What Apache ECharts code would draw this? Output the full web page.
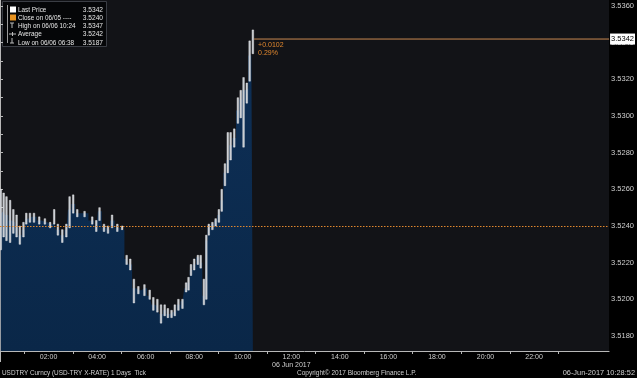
<!DOCTYPE html>
<html><head><meta charset="utf-8">
<script src="https://cdn.jsdelivr.net/npm/echarts@6/dist/echarts.min.js"></script>
<style>html,body{margin:0;padding:0;background:#000}#c{width:637px;height:378px}</style>
</head><body><div id="c"></div>
<script>
const times = ["00:02","00:09","00:16","00:25","00:33","00:41","00:49","00:58","01:05","01:14",
"01:24","01:37","01:51","02:04","02:14","02:23","02:34","02:44","02:52","03:01",
"03:11","03:29","03:48","03:58","04:06","04:17","04:27","04:37","04:50","05:02",
"05:13","05:22","05:31","05:42","05:57","06:10","06:19","06:29","06:38","06:47",
"06:55","07:04","07:12","07:21","07:31","07:40","07:46","07:52","08:00","08:09",
"08:16","08:24","08:30","08:36","08:45","08:53","09:01","09:08","09:16","09:23",
"09:30","09:39","09:48","09:55","10:02","10:10","10:17","10:25"];
const highs = [3.5260,3.5258,3.5256,3.5254,3.5249,3.5246,3.5240,3.5242,3.5247,3.5247,
3.5247,3.5245,3.5244,3.5242,3.5249,3.5241,3.5238,3.5241,3.5256,3.5257,
3.5249,3.5248,3.5245,3.5243,3.5250,3.5241,3.5240,3.5246,3.5241,3.5240,
3.5224,3.5222,3.5211,3.5207,3.5208,3.5205,3.5201,3.5200,3.5197,3.5197,
3.5195,3.5194,3.5197,3.5200,3.5200,3.5209,3.5212,3.5219,3.5222,3.5224,
3.5224,3.5211,3.5235,3.5241,3.5242,3.5244,3.5249,3.5260,3.5274,3.5291,
3.5291,3.5293,3.5310,3.5314,3.5321,3.5318,3.5341,3.5347];
const lows = [3.5227,3.5234,3.5232,3.5231,3.5236,3.5234,3.5230,3.5234,3.5241,3.5242,
3.5242,3.5241,3.5241,3.5239,3.5241,3.5235,3.5231,3.5234,3.5239,3.5247,
3.5245,3.5245,3.5241,3.5237,3.5243,3.5237,3.5236,3.5239,3.5237,3.5238,
3.5219,3.5216,3.5198,3.5203,3.5202,3.5200,3.5194,3.5193,3.5187,3.5191,
3.5190,3.5190,3.5191,3.5194,3.5195,3.5204,3.5205,3.5213,3.5216,3.5219,
3.5217,3.5197,3.5200,3.5235,3.5238,3.5240,3.5242,3.5248,3.5262,3.5269,
3.5276,3.5283,3.5296,3.5299,3.5283,3.5307,3.5319,3.5334];
const closes = [3.5247,3.5248,3.5246,3.5243,3.5242,3.5239,3.5235,3.5238,3.5244,3.5245,
3.5245,3.5243,3.5242,3.5241,3.5242,3.5238,3.5235,3.5238,3.5249,3.5252,
3.5247,3.5247,3.5243,3.5240,3.5248,3.5239,3.5238,3.5243,3.5239,3.5238,
3.5222,3.5219,3.5206,3.5205,3.5206,3.5202,3.5197,3.5196,3.5192,3.5194,
3.5192,3.5193,3.5194,3.5197,3.5199,3.5206,3.5209,3.5216,3.5219,3.5223,
3.5220,3.5202,3.5232,3.5239,3.5241,3.5243,3.5246,3.5254,3.5269,3.5276,
3.5284,3.5288,3.5303,3.5309,3.5314,3.5315,3.5333,3.5342];
const yLabelValues = [3.5180,3.5200,3.5220,3.5240,3.5260,3.5280,3.5300,3.5320,3.5340,3.5360];
const yTickValues = [3.5180,3.5190,3.5200,3.5210,3.5220,3.5230,3.5240,3.5250,3.5260,3.5270,3.5280,3.5290,3.5300,3.5310,3.5320,3.5330,3.5340,3.5350,3.5360];
const xLabelHours = [2,4,6,8,10,12,14,16,18,20,22];
const xTickHours = [1,3,5,7,9,11,13,15,17,19,21,23];
const lastPrice = 3.5342, prevClose = 3.5240, lastTime = "10:28";
const legendRows = [
  ["Last Price", "3.5342"],
  ["Close on 06/05 ----", "3.5240"],
  ["High on 06/06 10:24", "3.5347"],
  ["Average", "3.5242"],
  ["Low on 06/06 06:38", "3.5187"]
];
const footerLeft = "USDTRY Curncy (USD-TRY X-RATE) 1 Days  Tick";
const footerMid = "Copyright\u00A9 2017 Bloomberg Finance L.P.";
const footerRight = "06-Jun-2017 10:28:52";
const dateLabel = "06 Jun 2017";

const FONT = 'Liberation Sans';
const toH = t => { const [h, m] = t.split(':').map(Number); return h + m / 60; };
const xs = times.map(toH);
const lastH = toH(lastTime);
const X_MAX = 25.09, Y_MIN = 3.51718, Y_MAX = 3.53633;

const chart = echarts.init(document.getElementById('c'), null, {renderer: 'canvas'});
const txt = '#cfcfcf';
const ORANGE = '#e0872e';

const legendGraphics = [
  {type:'rect', shape:{x:2.5, y:1.5, width:104, height:45}, style:{fill:'#050608', stroke:'#3a3d44', lineWidth:1}},
  {type:'line', shape:{x1:7.5, y1:5, x2:7.5, y2:43}, style:{stroke:'#9a9a9a', lineWidth:1}},
  {type:'rect', shape:{x:10, y:6.5, width:6, height:6}, style:{fill:'#ffffff'}},
  {type:'rect', shape:{x:10, y:14.5, width:6, height:6}, style:{fill:'#e8921f'}},
  {type:'line', shape:{x1:10, y1:23, x2:14, y2:23}, style:{stroke:'#bbbbbb', lineWidth:1}},
  {type:'line', shape:{x1:12, y1:23, x2:12, y2:28}, style:{stroke:'#bbbbbb', lineWidth:1}},
  {type:'line', shape:{x1:9, y1:34, x2:16, y2:34}, style:{stroke:'#bbbbbb', lineWidth:1}},
  {type:'line', shape:{x1:12.5, y1:32, x2:12.5, y2:36}, style:{stroke:'#bbbbbb', lineWidth:1}},
  {type:'line', shape:{x1:12, y1:38, x2:12, y2:43}, style:{stroke:'#bbbbbb', lineWidth:1}},
  {type:'line', shape:{x1:10, y1:43, x2:14, y2:43}, style:{stroke:'#bbbbbb', lineWidth:1}}
];
legendRows.forEach((r, i) => {
  const y = 10 + i * 8.2;
  legendGraphics.push({type:'text', x:18, y:y, style:{text:r[0], fill:'#e6e6e6', font:'6.4px ' + FONT, textVerticalAlign:'middle'}});
  legendGraphics.push({type:'text', x:103, y:y, style:{text:r[1], fill:'#e6e6e6', font:'6.6px ' + FONT, textAlign:'right', textVerticalAlign:'middle'}});
});

const option = {
  backgroundColor: '#000000',
  animation: false,
  grid: {left: 0, right: 26, top: 0, bottom: 27, show: true, backgroundColor: '#121317', borderWidth: 0},
  xAxis: {
    type: 'value', min: 0, max: X_MAX,
    axisLine: {show: true, onZero: false, lineStyle: {color: '#b8b8b8', width: 1}},
    axisTick: {show: true, customValues: xTickHours, length: 3, lineStyle: {color: '#b8b8b8'}},
    axisLabel: {show: true, customValues: xLabelHours, margin: 3, color: txt, fontSize: 7, fontFamily: FONT,
      formatter: v => String(v).padStart(2, '0') + ':00'},
    splitLine: {show: false}
  },
  yAxis: {
    type: 'value', position: 'right', min: Y_MIN, max: Y_MAX, scale: true,
    axisLine: {show: true, lineStyle: {color: '#b8b8b8', width: 1}},
    axisTick: {show: true, customValues: yTickValues, length: 3, lineStyle: {color: '#b8b8b8'}},
    axisLabel: {show: true, customValues: yLabelValues, margin: 2, color: txt, fontSize: 7.5, fontFamily: FONT,
      formatter: v => v.toFixed(4)},
    splitLine: {show: false}
  },
  series: [
    {
      type: 'line', step: 'middle', showSymbol: false, z: 1,
      data: xs.map((x, i) => [x, closes[i]]),
      lineStyle: {width: 0},
      areaStyle: {color: new echarts.graphic.LinearGradient(0, 0, 0, 1, [
        {offset: 0, color: '#0e3057'}, {offset: 1, color: '#0a2748'}]), opacity: 1, origin: 'start'},
      markLine: {
        silent: true, symbol: ['none', 'none'], animation: false, precision: 4,
        lineStyle: {type: [1.5, 1.5], color: ORANGE, width: 1, opacity: 1},
        label: {show: false},
        data: [{yAxis: prevClose}]
      }
    },
    {
      type: 'custom', z: 3,
      data: xs.map((x, i) => [x, highs[i], lows[i]]),
      encode: {x: 0, y: [1, 2]},
      renderItem: (params, api) => {
        const p1 = api.coord([api.value(0), api.value(1)]);
        const p2 = api.coord([api.value(0), api.value(2)]);
        return {type: 'rect', shape: {x: p1[0] - 0.8, y: p1[1], width: 1.6, height: Math.max(1, p2[1] - p1[1])},
          style: {fill: '#c2c6cc', stroke: '#ffffff', lineWidth: 0.4}};
      }
    },
    {
      type: 'line', z: 4, showSymbol: false, silent: true,
      data: [[lastH, lastPrice], [X_MAX, lastPrice]],
      lineStyle: {color: '#c98a52', width: 1, type: 'solid'},
      itemStyle: {color: '#c98a52'},
      endLabel: {show: true, distance: 1, formatter: () => lastPrice.toFixed(4),
        backgroundColor: '#ffffff', color: '#000000', fontSize: 7.5, fontFamily: FONT, padding: [2, 1, 1, 1]}
    }
  ],
  graphic: []
};
chart.setOption(option);

const pLast = chart.convertToPixel({gridIndex: 0}, [lastH, lastPrice]);
const pDate = chart.convertToPixel({gridIndex: 0}, [12, Y_MIN]);
const g = legendGraphics.concat([
  {type:'text', x: pLast[0] + 4, y: pLast[1] + 3, style:{text:'+0.0102', fill:ORANGE, font:'7px ' + FONT}},
  {type:'text', x: pLast[0] + 4, y: pLast[1] + 11, style:{text:'0.29%', fill:ORANGE, font:'7px ' + FONT}},
  {type:'text', x: pDate[0], y: 365, style:{text: dateLabel, fill: txt, font:'7px ' + FONT, textAlign:'center', textVerticalAlign:'middle'}},
  {type:'line', shape:{x1:0.5, y1:351, x2:0.5, y2:362}, style:{stroke:'#b8b8b8', lineWidth:1}},
  {type:'text', x: 2, y: 373, style:{text: footerLeft, fill: txt, font:'6.4px ' + FONT, textVerticalAlign:'middle'}},
  {type:'text', x: 297, y: 373, style:{text: footerMid, fill: txt, font:'6.5px ' + FONT, textVerticalAlign:'middle'}},
  {type:'text', x: 635, y: 373, style:{text: footerRight, fill: txt, font:'7.4px ' + FONT, textAlign:'right', textVerticalAlign:'middle'}}
]);
chart.setOption({graphic: g});
</script>
</body></html>
